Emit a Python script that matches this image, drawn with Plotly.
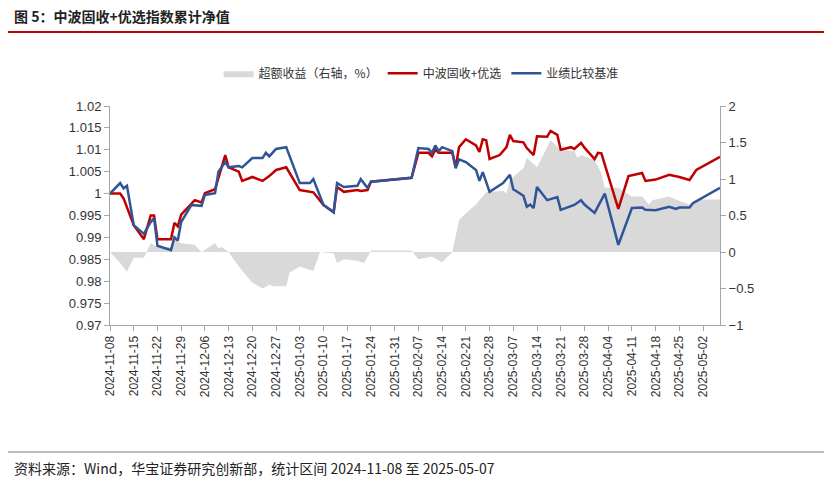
import plotly.graph_objects as go

# 中波固收+优选
red_dates = ['2024-11-08', '2024-11-11', '2024-11-12', '2024-11-15', '2024-11-18', '2024-11-20', '2024-11-21',
             '2024-11-22', '2024-11-26', '2024-11-27', '2024-11-28', '2024-11-29', '2024-12-03', '2024-12-05',
             '2024-12-06', '2024-12-09', '2024-12-12', '2024-12-13', '2024-12-16', '2024-12-17', '2024-12-20',
             '2024-12-23', '2024-12-25', '2024-12-27', '2024-12-30', '2025-01-03', '2025-01-07', '2025-01-10',
             '2025-01-13', '2025-01-14', '2025-01-16', '2025-01-20', '2025-01-21', '2025-01-23', '2025-01-24',
             '2025-02-05', '2025-02-07', '2025-02-10', '2025-02-11', '2025-02-12', '2025-02-13', '2025-02-17',
             '2025-02-18', '2025-02-19', '2025-02-21', '2025-02-24', '2025-02-25', '2025-02-26', '2025-02-27',
             '2025-02-28', '2025-03-03', '2025-03-05', '2025-03-06', '2025-03-07', '2025-03-10', '2025-03-11',
             '2025-03-13', '2025-03-14', '2025-03-17', '2025-03-18', '2025-03-20', '2025-03-21', '2025-03-24',
             '2025-03-25', '2025-03-27', '2025-03-28', '2025-03-31', '2025-04-01', '2025-04-02', '2025-04-07',
             '2025-04-10', '2025-04-14', '2025-04-15', '2025-04-18', '2025-04-22', '2025-04-24', '2025-04-25',
             '2025-04-28', '2025-04-30', '2025-05-07']
red_values = [1.0, 1.0, 0.9989, 0.9928, 0.9896, 0.995, 0.995,
              0.9896, 0.9896, 0.9933, 0.9925, 0.9952, 0.9985, 0.998,
              1.0001, 1.001, 1.0088, 1.006, 1.005, 1.0029, 1.0038,
              1.0029, 1.004, 1.0054, 1.006, 1.0008, 1.0003, 0.9974,
              0.9958, 1.0015, 1.0004, 1.0008, 1.0006, 1.0008, 1.0027,
              1.0036, 1.0093, 1.0093, 1.0085, 1.0100, 1.0093, 1.0093,
              1.006, 1.0106, 1.0124, 1.011, 1.0095, 1.0124, 1.0122,
              1.0079, 1.0088, 1.0106, 1.0134, 1.012, 1.0117, 1.0104,
              1.0088, 1.0131, 1.013, 1.0143, 1.0134, 1.01, 1.0106,
              1.0102, 1.0116, 1.0105, 1.0079, 1.0093, 1.0092, 0.9965,
              1.004, 1.0047, 1.0029, 1.0032, 1.0043, 1.004, 1.0038,
              1.0031, 1.0054, 1.0084]

# 业绩比较基准
blue_dates = ['2024-11-08', '2024-11-11', '2024-11-12', '2024-11-13', '2024-11-15', '2024-11-18', '2024-11-20',
              '2024-11-21', '2024-11-22', '2024-11-26', '2024-11-27', '2024-11-28', '2024-11-29', '2024-12-02',
              '2024-12-05', '2024-12-06', '2024-12-09', '2024-12-10', '2024-12-12', '2024-12-13', '2024-12-16',
              '2024-12-17', '2024-12-20', '2024-12-23', '2024-12-24', '2024-12-25', '2024-12-27', '2024-12-30',
              '2025-01-03', '2025-01-06', '2025-01-07', '2025-01-10', '2025-01-13', '2025-01-14', '2025-01-16',
              '2025-01-20', '2025-01-21', '2025-01-23', '2025-01-24', '2025-02-05', '2025-02-07', '2025-02-10',
              '2025-02-11', '2025-02-12', '2025-02-13', '2025-02-14', '2025-02-17', '2025-02-18', '2025-02-19',
              '2025-02-21', '2025-02-24', '2025-02-25', '2025-02-26', '2025-02-28', '2025-03-04', '2025-03-06',
              '2025-03-07', '2025-03-10', '2025-03-11', '2025-03-12', '2025-03-13', '2025-03-14', '2025-03-17',
              '2025-03-18', '2025-03-20', '2025-03-21', '2025-03-25', '2025-03-27', '2025-03-28', '2025-03-31',
              '2025-04-01', '2025-04-03', '2025-04-07', '2025-04-10', '2025-04-11', '2025-04-14', '2025-04-15',
              '2025-04-18', '2025-04-22', '2025-04-24', '2025-04-25', '2025-04-28', '2025-04-29', '2025-05-07']
blue_values = [1.0, 1.0024, 1.0012, 1.0018, 0.9928, 0.9908, 0.9935,
               0.9944, 0.9881, 0.9871, 0.99, 0.9893, 0.9935, 0.9974,
               0.9972, 0.9997, 1.0001, 1.005, 1.0072, 1.006, 1.0063,
               1.006, 1.0081, 1.0081, 1.0093, 1.0085, 1.0102, 1.0106,
               1.0024, 1.0024, 1.0033, 0.9974, 0.9957, 1.0024, 1.0015,
               1.0018, 1.0033, 1.0013, 1.0027, 1.0036, 1.0104, 1.0102,
               1.0093, 1.011, 1.0097, 1.0106, 1.0097, 1.0058, 1.0078,
               1.0072, 1.0054, 1.0029, 1.0049, 1.0004, 1.0024, 1.0043,
               1.001, 0.9995, 0.997, 0.9975, 0.9967, 1.0015, 0.9985,
               0.9987, 0.9992, 0.9963, 0.9974, 0.9985, 0.9975, 0.9956,
               0.997, 1.0, 0.9883, 0.9946, 0.9967, 0.9968, 0.9963,
               0.9962, 0.997, 0.9965, 0.9968, 0.9968, 0.9978, 1.0013]

# 超额收益（右轴，%）
excess_dates = ['2024-11-08', '2024-11-11', '2024-11-13', '2024-11-15', '2024-11-18', '2024-11-20', '2024-11-22',
                '2024-11-26', '2024-11-27', '2024-11-29', '2024-12-03', '2024-12-05', '2024-12-09', '2024-12-10',
                '2024-12-11', '2024-12-13', '2024-12-16', '2024-12-20', '2024-12-23', '2024-12-25', '2024-12-26',
                '2024-12-30', '2024-12-31', '2025-01-03', '2025-01-07', '2025-01-09', '2025-01-13', '2025-01-14',
                '2025-01-16', '2025-01-20', '2025-01-22', '2025-01-24', '2025-02-05', '2025-02-07', '2025-02-11',
                '2025-02-14', '2025-02-17', '2025-02-19', '2025-02-21', '2025-02-24', '2025-02-27', '2025-03-04',
                '2025-03-05', '2025-03-06', '2025-03-10', '2025-03-11', '2025-03-14', '2025-03-18', '2025-03-21',
                '2025-03-25', '2025-03-26', '2025-03-27', '2025-03-31', '2025-04-02', '2025-04-03', '2025-04-07',
                '2025-04-09', '2025-04-11', '2025-04-14', '2025-04-16', '2025-04-17', '2025-04-22', '2025-04-24',
                '2025-04-28', '2025-04-30', '2025-05-07']
excess_values = [0, -0.15, -0.27, -0.08, -0.08, 0.12, 0.07,
                 0.07, 0.17, 0.12, 0.1, 0, 0.12, 0.05,
                 0.07, 0, -0.2, -0.42, -0.5, -0.45, -0.47,
                 -0.47, -0.28, -0.2, -0.26, 0, -0.02, -0.15,
                 -0.1, -0.12, -0.15, 0.02, 0.02, -0.1, -0.06,
                 -0.14, 0, 0.44, 0.53, 0.65, 0.82, 0.84,
                 0.8, 0.99, 1.15, 1.29, 1.16, 1.53, 1.4,
                 1.38, 1.29, 1.33, 1.26, 1.08, 0.88, 0.88,
                 0.82, 0.76, 0.76, 0.65, 0.71, 0.76, 0.72,
                 0.65, 0.72, 0.72]

tick_labels = ['2024-11-08', '2024-11-15', '2024-11-22', '2024-11-29', '2024-12-06', '2024-12-13', '2024-12-20',
               '2024-12-27', '2025-01-03', '2025-01-10', '2025-01-17', '2025-01-24', '2025-01-31', '2025-02-07',
               '2025-02-14', '2025-02-21', '2025-02-28', '2025-03-07', '2025-03-14', '2025-03-21', '2025-03-28',
               '2025-04-04', '2025-04-11', '2025-04-18', '2025-04-25', '2025-05-02']

FONT = 'Noto Sans CJK SC'
AXIS_COLOR = '#a6a6a6'

fig = go.Figure()
# area on the primary axis (drawn underneath), net value lines on the overlaying axis
fig.add_trace(go.Scatter(
    x=excess_dates, y=excess_values, yaxis='y', mode='lines', fill='tozeroy',
    line=dict(width=0, color='#d9d9d9'), fillcolor='#d9d9d9', name='超额收益（右轴，%）',
))
fig.add_trace(go.Scatter(
    x=red_dates, y=red_values, yaxis='y2', mode='lines', line=dict(color='#c00000', width=2.5),
    name='中波固收+优选',
))
fig.add_trace(go.Scatter(
    x=blue_dates, y=blue_values, yaxis='y2', mode='lines', line=dict(color='#2f5597', width=2.5),
    name='业绩比较基准',
))

tickfont = dict(family='Liberation Sans', size=13, color='#333333')

fig.update_layout(
    width=824, height=476,
    margin=dict(l=102, r=112, t=98, b=159),
    paper_bgcolor='white', plot_bgcolor='white',
    font=dict(family=FONT, size=12, color='#333333'),
    showlegend=True,
    legend=dict(orientation='h', x=0.51, xanchor='center', y=1.15, yanchor='middle',
                font=dict(size=12), traceorder='normal'),
    xaxis=dict(
        type='date', range=['2024-11-08', '2025-05-07'],
        tickmode='array', tickvals=tick_labels, ticktext=tick_labels,
        tickangle=-90, showline=True, linecolor=AXIS_COLOR, ticks='outside',
        tickcolor=AXIS_COLOR, ticklen=5, showgrid=False, zeroline=False,
        tickfont=dict(family='Liberation Sans', size=12, color='#333333'),
    ),
    yaxis=dict(
        range=[-1, 2], dtick=0.5, side='right', showline=True,
        linecolor=AXIS_COLOR, ticks='outside', tickcolor=AXIS_COLOR, ticklen=5,
        showgrid=False, zeroline=False, tickfont=tickfont,
    ),
    yaxis2=dict(
        range=[0.97, 1.02], dtick=0.005, overlaying='y', side='left', showline=True,
        linecolor=AXIS_COLOR, ticks='outside', tickcolor=AXIS_COLOR, ticklen=5,
        showgrid=False, zeroline=False, tickfont=tickfont,
    ),
    shapes=[
        dict(type='line', xref='paper', yref='paper', x0=-0.168, x1=1.19, y0=1.338, y1=1.338,
             line=dict(color='#c00000', width=2)),
        dict(type='line', xref='paper', yref='paper', x0=-0.168, x1=1.19, y0=-0.58, y1=-0.58,
             line=dict(color='#7f7f7f', width=1)),
    ],
    annotations=[
        dict(text='<b>图 5：中波固收+优选指数累计净值</b>', xref='paper', yref='paper', x=-0.16, y=1.41,
             xanchor='left', yanchor='middle', showarrow=False, font=dict(size=14, color='#222222')),
        dict(text='资料来源：Wind，华宝证券研究创新部，统计区间 2024-11-08 至 2025-05-07', xref='paper',
             yref='paper', x=-0.16, y=-0.655, xanchor='left', yanchor='middle', showarrow=False,
             font=dict(size=14, color='#222222')),
    ],
)

fig.write_html('out.html')
